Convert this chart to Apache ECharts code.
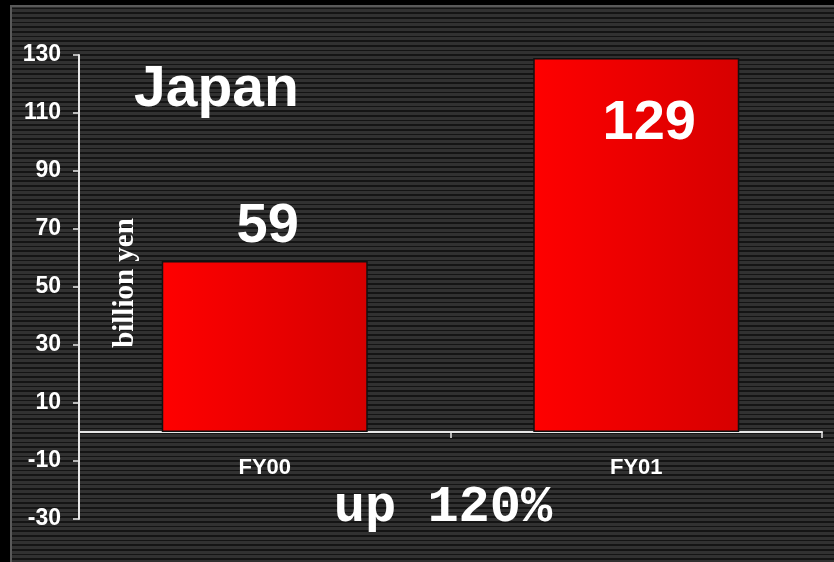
<!DOCTYPE html>
<html>
<head>
<meta charset="utf-8">
<script src="https://cdn.jsdelivr.net/npm/echarts@6/dist/echarts.min.js"></script>
<style>
  html, body { margin: 0; padding: 0; background: #000; }
  #chart { width: 834px; height: 562px; }
</style>
</head>
<body>
<div id="chart"></div>
<script>
var categories = ['FY00', 'FY01'];
var values = [59, 129];
var yTicks = [-30, -10, 10, 30, 50, 70, 90, 110, 130];

// striped panel fill
function stripes() {
  var c = document.createElement('canvas');
  c.width = 4; c.height = 14;
  var ctx = c.getContext('2d');
  ctx.fillStyle = '#141414';
  ctx.fillRect(0, 0, 4, 14);
  ctx.fillStyle = '#313131';
  ctx.fillRect(0, 0, 4, 3);
  ctx.fillRect(0, 5, 4, 3);
  ctx.fillRect(0, 9, 4, 3);
  return c;
}

var chart = echarts.init(document.getElementById('chart'));
var font = 'Liberation Sans, Arial, sans-serif';

chart.setOption({
  backgroundColor: '#000',
  animation: false,
  graphic: [
    {
      type: 'rect', z: -10,
      shape: { x: 11, y: 6, width: 840, height: 570 },
      style: { fill: { image: stripes(), repeat: 'repeat' }, stroke: '#5a5a5a', lineWidth: 2 }
    },
    {
      type: 'text', left: 134, top: 62,
      style: { text: 'Japan', fill: '#fff', font: 'bold 57px ' + font }
    },
    {
      type: 'text', x: 126, y: 283, rotation: Math.PI / 2,
      style: { text: 'billion yen', fill: '#fff', font: 'bold 29px "Liberation Serif", "Times New Roman", serif',
               align: 'center', verticalAlign: 'middle' }
    },
    {
      type: 'text', x: 443, y: 508,
      style: { text: 'up 120%', fill: '#fff', font: 'bold 52px "Liberation Mono", "Courier New", monospace',
               align: 'center', verticalAlign: 'middle' }
    }
  ],
  grid: { left: 79, right: 12, top: 55, bottom: 43 },
  xAxis: {
    type: 'category',
    data: categories,
    axisLine: { onZero: true, lineStyle: { color: '#e8e8e8', width: 2 } },
    axisTick: { show: true, length: 6, lineStyle: { color: '#e8e8e8', width: 1.5 } },
    axisLabel: { color: '#fff', fontWeight: 'bold', fontSize: 22, fontFamily: font, margin: -62 }
  },
  yAxis: {
    type: 'value',
    min: -30,
    max: 130,
    splitLine: { show: false },
    axisLine: { show: true, lineStyle: { color: '#e8e8e8', width: 2 } },
    axisTick: { show: true, length: 6, customValues: yTicks, lineStyle: { color: '#e8e8e8', width: 1.5 } },
    axisLabel: { color: '#fff', fontWeight: 'bold', fontSize: 23, fontFamily: font, margin: 18, customValues: yTicks }
  },
  series: [{
    type: 'bar',
    barWidth: 206,
    data: values.map(function (v, i) {
      return {
        value: v,
        label: i === 0 ? { position: 'top', distance: 6, offset: [3, 0] } : { position: 'insideTop', distance: 38, offset: [13, 0] }
      };
    }),
    itemStyle: {
      color: new echarts.graphic.LinearGradient(0, 0, 1, 0, [
        { offset: 0, color: '#ff0000' },
        { offset: 1, color: '#d60000' }
      ]),
      borderColor: '#111',
      borderWidth: 1.5
    },
    label: { show: true, color: '#fff', fontWeight: 'bold', fontSize: 56, fontFamily: font }
  }]
});
</script>
</body>
</html>
